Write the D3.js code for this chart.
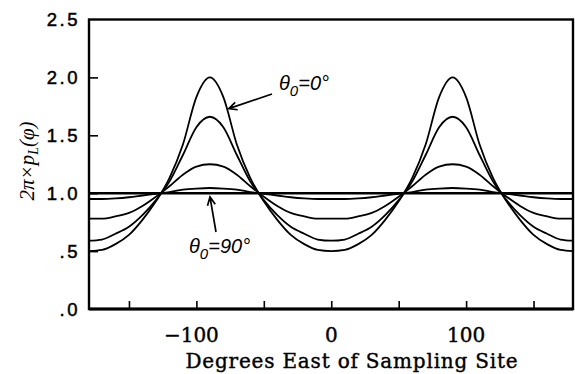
<!DOCTYPE html>
<html>
<head>
<meta charset="utf-8">
<script src="https://cdn.jsdelivr.net/npm/d3@7"></script>
<style>
  body { margin: 0; background: #fff; }
  svg { display: block; }
  text { fill: #000; }
</style>
</head>
<body>
<div id="chart"></div>
<script>
// longitude samples (degrees east of sampling site)
const PHI = [-180, -170, -160, -150, -140, -130, -120, -110, -100, -90, -80, -70, -60, -50, -40, -30, -20, -10,
  0, 10, 20, 30, 40, 50, 60, 70, 80, 90, 100, 110, 120, 130, 140, 150, 160, 170, 180];

// 2*pi*pL(phi), one list per curve
const theta0 = [0.50, 0.51, 0.56, 0.64, 0.77, 0.93, 1.13, 1.42, 1.83, 2.00, 1.83, 1.42, 1.13, 0.93, 0.77, 0.64, 0.56, 0.51,
  0.50, 0.51, 0.56, 0.64, 0.77, 0.93, 1.13, 1.42, 1.83, 2.00, 1.83, 1.42, 1.13, 0.93, 0.77, 0.64, 0.56, 0.51, 0.50];
const thetaB = [0.59, 0.60, 0.65, 0.71, 0.81, 0.94, 1.10, 1.33, 1.57, 1.66, 1.57, 1.33, 1.10, 0.94, 0.81, 0.71, 0.65, 0.60,
  0.59, 0.60, 0.65, 0.71, 0.81, 0.94, 1.10, 1.33, 1.57, 1.66, 1.57, 1.33, 1.10, 0.94, 0.81, 0.71, 0.65, 0.60, 0.59];
const thetaC = [0.78, 0.78, 0.80, 0.83, 0.89, 0.97, 1.06, 1.16, 1.23, 1.25, 1.23, 1.16, 1.06, 0.97, 0.89, 0.83, 0.80, 0.78,
  0.78, 0.78, 0.80, 0.83, 0.89, 0.97, 1.06, 1.16, 1.23, 1.25, 1.23, 1.16, 1.06, 0.97, 0.89, 0.83, 0.80, 0.78, 0.78];
const thetaD = [0.95, 0.95, 0.955, 0.965, 0.98, 0.995, 1.01, 1.03, 1.04, 1.045, 1.04, 1.03, 1.01, 0.995, 0.98, 0.965, 0.955, 0.95,
  0.95, 0.95, 0.955, 0.965, 0.98, 0.995, 1.01, 1.03, 1.04, 1.045, 1.04, 1.03, 1.01, 0.995, 0.98, 0.965, 0.955, 0.95, 0.95];
const theta90 = [1, 1, 1, 1, 1, 1, 1, 1, 1, 1, 1, 1, 1, 1, 1, 1, 1, 1,
  1, 1, 1, 1, 1, 1, 1, 1, 1, 1, 1, 1, 1, 1, 1, 1, 1, 1, 1];

const SERIES = [theta0, thetaB, thetaC, thetaD, theta90];

const X_TICKS = [-150, -100, -50, 0, 50, 100, 150];
const X_LABELED = [-100, 0, 100];
const Y_TICKS = [0, 0.5, 1.0, 1.5, 2.0, 2.5];
const Y_LABELS = ['.0', '.5', '1.0', '1.5', '2.0', '2.5'];

const W = 575, H = 374;
const LEFT = 89, RIGHT = 573, TOP = 19.5, BOTTOM = 309;

const root = d3.select('#chart').append('svg')
  .attr('width', W)
  .attr('height', H);

const x = d3.scaleLinear().domain([-180, 180]).range([88.5, 574]);
const y = d3.scaleLinear().domain([0, 2.5]).range([BOTTOM, TOP]);

const plot = root.append('g');

plot.append('clipPath').attr('id', 'clip')
  .append('rect')
  .attr('x', LEFT).attr('y', TOP)
  .attr('width', RIGHT - LEFT).attr('height', BOTTOM - TOP);

const line = d3.line()
  .x((d, i) => x(PHI[i]))
  .y(d => y(d))
  .curve(d3.curveMonotoneX);

plot.append('g').attr('clip-path', 'url(#clip)')
  .selectAll('path')
  .data(SERIES)
  .join('path')
  .attr('fill', 'none')
  .attr('stroke', '#000')
  .attr('stroke-width', (d, i) => i === 4 ? 2.4 : 1.8)
  .attr('d', line);

// frame
plot.append('rect')
  .attr('x', LEFT).attr('y', TOP)
  .attr('width', RIGHT - LEFT).attr('height', BOTTOM - TOP)
  .attr('fill', 'none')
  .attr('stroke', '#000')
  .attr('stroke-width', 2.4);
plot.append('line')
  .attr('x1', LEFT).attr('x2', RIGHT)
  .attr('y1', BOTTOM).attr('y2', BOTTOM)
  .attr('stroke', '#000')
  .attr('stroke-width', 3.2);

// axes with inward ticks
const xAxis = d3.axisTop(x).tickValues(X_TICKS).tickSize(8).tickFormat('');
plot.append('g')
  .attr('class', 'x-axis')
  .attr('transform', 'translate(0,' + BOTTOM + ')')
  .call(xAxis)
  .call(g => g.select('.domain').remove())
  .selectAll('line').attr('stroke-width', 1.6);

const yAxis = d3.axisRight(y).tickValues(Y_TICKS.slice(1, -1)).tickSize(9).tickFormat('');
plot.append('g')
  .attr('class', 'y-axis')
  .attr('transform', 'translate(' + LEFT + ',0)')
  .call(yAxis)
  .call(g => g.select('.domain').remove())
  .selectAll('line').attr('stroke-width', 1.6);

// tick labels
root.append('g')
  .selectAll('text')
  .data(Y_TICKS)
  .join('text')
  .attr('x', 80)
  .attr('y', d => y(d))
  .attr('dy', '0.36em')
  .attr('text-anchor', 'end')
  .attr('stroke', '#000')
  .attr('stroke-width', 0.5)
  .style('font-family', '"Liberation Sans", Arial, sans-serif')
  .style('font-size', '18.5px')
  .style('letter-spacing', '2.5px')
  .text((d, i) => Y_LABELS[i]);

root.append('g')
  .selectAll('text')
  .data(X_LABELED)
  .join('text')
  .attr('x', d => x(d) + (d < 0 ? -5 : 0))
  .attr('y', 342)
  .attr('text-anchor', 'middle')
  .attr('stroke', '#000')
  .attr('stroke-width', 0.4)
  .style('font-family', '"DejaVu Serif", serif')
  .style('font-size', '20px')
  .text(d => d < 0 ? '\u2212' + Math.abs(d) : d);

root.append('text')
  .attr('x', 352)
  .attr('y', 368)
  .attr('text-anchor', 'middle')
  .attr('stroke', '#000')
  .attr('stroke-width', 0.4)
  .style('font-family', '"DejaVu Serif", serif')
  .style('font-size', '20px')
  .style('letter-spacing', '0.8px')
  .text('Degrees East of Sampling Site');

// y axis title
const yt = root.append('text')
  .attr('transform', 'translate(34,161) rotate(-90)')
  .attr('text-anchor', 'middle')
  .style('font-family', '"Liberation Serif", serif')
  .style('font-style', 'italic')
  .style('font-size', '21px');
yt.append('tspan').text('2\u03C0\u00D7p');
yt.append('tspan').attr('dy', 4).style('font-size', '14px').text('L');
yt.append('tspan').attr('dy', -4).text('(\u03C6)');

// annotations
function label(g, tx, ty, sub, val) {
  const t = g.append('text')
    .attr('x', tx).attr('y', ty)
    .style('font-family', '"Liberation Sans", Arial, sans-serif')
    .style('font-style', 'italic')
    .style('font-size', '20px');
  t.append('tspan').text('\u03B8');
  t.append('tspan').attr('dy', 6).style('font-size', '15px').text(sub);
  t.append('tspan').attr('dy', -6).text('=' + val + '\u00B0');
}

function arrow(g, x1, y1, x2, y2) {
  const a = Math.atan2(y2 - y1, x2 - x1);
  const L = 9, s = 0.45;
  g.append('path')
    .attr('d', `M${x1},${y1}L${x2},${y2}` +
      `M${x2 - L * Math.cos(a - s)},${y2 - L * Math.sin(a - s)}L${x2},${y2}` +
      `L${x2 - L * Math.cos(a + s)},${y2 - L * Math.sin(a + s)}`)
    .attr('fill', 'none')
    .attr('stroke', '#000')
    .attr('stroke-width', 1.7);
}

const ann = root.append('g');
label(ann, 279, 90, '0', '0');
arrow(ann, 272, 94, x(-76), y(1.73));
label(ann, 189, 253, '0', '90');
arrow(ann, 216, 232, 210, 197);
</script>
</body>
</html>
